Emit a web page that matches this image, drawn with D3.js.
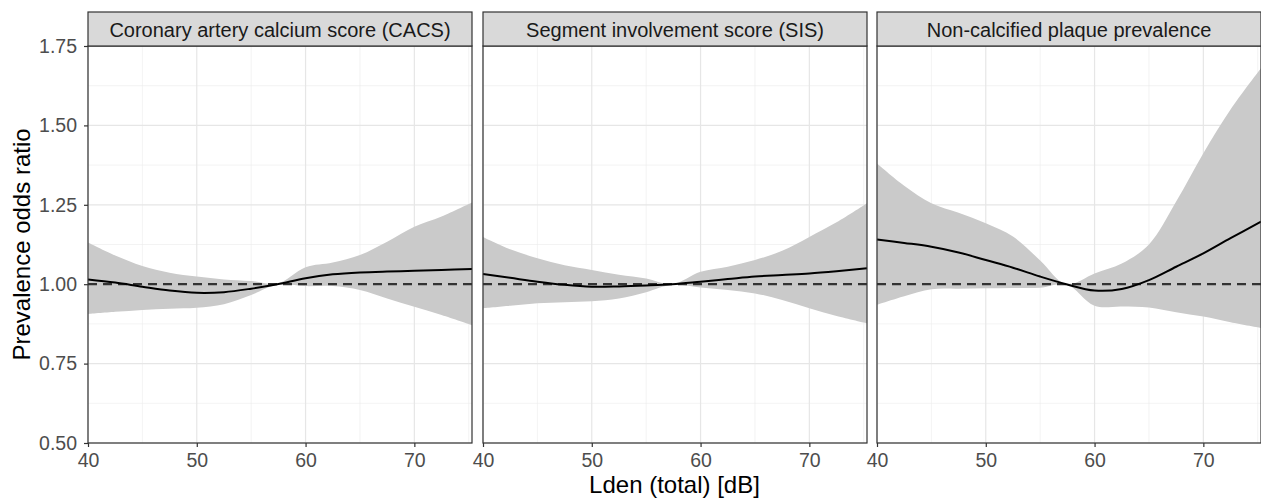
<!DOCTYPE html>
<html>
<head>
<meta charset="utf-8">
<script src="https://cdn.jsdelivr.net/npm/d3@7"></script>
<style>
  body { margin: 0; background: #fff; }
  text { font-family: "Liberation Sans", Arial, sans-serif; }
</style>
</head>
<body>
<svg id="chart" width="1261" height="499"></svg>
<script>
// panel titles
var panels = ["Coronary artery calcium score (CACS)", "Segment involvement score (SIS)", "Non-calcified plaque prevalence"];

// x positions where values were read (Lden, dB)
var lden = [40, 42.5, 45, 47.5, 50, 52.5, 55, 57.4, 60, 62.5, 65, 67.5, 70, 72.5, 75.3];

// CACS
var cacsFit   = [1.015, 1.005, 0.992, 0.980, 0.973, 0.975, 0.986, 1.000, 1.019, 1.031, 1.037, 1.040, 1.042, 1.045, 1.048];
var cacsUpper = [1.131, 1.090, 1.057, 1.036, 1.024, 1.015, 1.010, 1.001, 1.053, 1.068, 1.092, 1.134, 1.181, 1.213, 1.257];
var cacsLower = [0.906, 0.913, 0.919, 0.923, 0.926, 0.937, 0.966, 0.998, 0.994, 0.994, 0.982, 0.955, 0.929, 0.903, 0.871];

// SIS
var sisFit   = [1.032, 1.020, 1.008, 0.998, 0.992, 0.993, 0.996, 1.000, 1.008, 1.016, 1.024, 1.029, 1.034, 1.041, 1.050];
var sisUpper = [1.149, 1.110, 1.082, 1.060, 1.045, 1.030, 1.018, 1.000, 1.039, 1.055, 1.076, 1.105, 1.149, 1.195, 1.255];
var sisLower = [0.924, 0.932, 0.940, 0.943, 0.946, 0.955, 0.975, 0.998, 0.990, 0.982, 0.971, 0.950, 0.924, 0.900, 0.877];

// Non-calcified plaque
var ncpFit   = [1.141, 1.130, 1.118, 1.100, 1.076, 1.052, 1.024, 1.000, 0.980, 0.985, 1.013, 1.055, 1.097, 1.145, 1.197];
var ncpUpper = [1.380, 1.310, 1.255, 1.225, 1.192, 1.150, 1.075, 1.000, 1.034, 1.065, 1.125, 1.260, 1.412, 1.550, 1.680];
var ncpLower = [0.935, 0.962, 0.984, 0.986, 0.987, 0.988, 0.989, 1.000, 0.932, 0.930, 0.927, 0.912, 0.898, 0.880, 0.862];

var yTicks = [0.50, 0.75, 1.00, 1.25, 1.50, 1.75];
var xTicks = [40, 50, 60, 70];

var series = [
  {fit: cacsFit, upper: cacsUpper, lower: cacsLower},
  {fit: sisFit, upper: sisUpper, lower: sisLower},
  {fit: ncpFit, upper: ncpUpper, lower: ncpLower}
];

var svg = d3.select("#chart");
var panelLeft = [88, 483, 877];
var panelW = 384, stripTop = 12, plotTop = 46, plotH = 397;

var x = d3.scaleLinear().domain([40, 75.3]).range([0, panelW]);
var y = d3.scaleLinear().domain([0.5, 1.75]).range([plotH, 0]);

var minorY = d3.range(0.625, 1.75, 0.25);
var minorX = [45, 55, 65, 75];

var area = d3.area()
  .x(function(d) { return x(d.x); })
  .y0(function(d) { return y(d.lo); })
  .y1(function(d) { return y(d.hi); })
  .curve(d3.curveCatmullRom);
var line = d3.line()
  .x(function(d) { return x(d.x); })
  .y(function(d) { return y(d.v); })
  .curve(d3.curveCatmullRom);

series.forEach(function(s, i) {
  var g = svg.append("g").attr("transform", "translate(" + panelLeft[i] + "," + plotTop + ")");

  // grid
  g.selectAll(".minY").data(minorY).enter().append("line")
    .attr("x1", 0).attr("x2", panelW)
    .attr("y1", function(d) { return y(d); }).attr("y2", function(d) { return y(d); })
    .attr("stroke", "#ebebeb").attr("stroke-width", 0.6);
  g.selectAll(".minX").data(minorX).enter().append("line")
    .attr("y1", 0).attr("y2", plotH)
    .attr("x1", function(d) { return x(d); }).attr("x2", function(d) { return x(d); })
    .attr("stroke", "#ebebeb").attr("stroke-width", 0.6);
  g.selectAll(".majY").data(yTicks).enter().append("line")
    .attr("x1", 0).attr("x2", panelW)
    .attr("y1", function(d) { return y(d); }).attr("y2", function(d) { return y(d); })
    .attr("stroke", "#e6e6e6").attr("stroke-width", 1.2);
  g.selectAll(".majX").data(xTicks).enter().append("line")
    .attr("y1", 0).attr("y2", plotH)
    .attr("x1", function(d) { return x(d); }).attr("x2", function(d) { return x(d); })
    .attr("stroke", "#e6e6e6").attr("stroke-width", 1.2);

  var band = lden.map(function(v, k) { return {x: v, lo: s.lower[k], hi: s.upper[k]}; });
  var pts = lden.map(function(v, k) { return {x: v, v: s.fit[k]}; });

  g.append("path").attr("d", area(band)).attr("fill", "#cacaca");

  g.append("line")
    .attr("x1", 0).attr("x2", panelW)
    .attr("y1", y(1)).attr("y2", y(1))
    .attr("stroke", "#333").attr("stroke-width", 2.2)
    .attr("stroke-dasharray", "9,6");

  g.append("path").attr("d", line(pts))
    .attr("fill", "none").attr("stroke", "#000").attr("stroke-width", 2);

  // panel border
  g.append("rect").attr("x", 0).attr("y", 0).attr("width", panelW).attr("height", plotH)
    .attr("fill", "none").attr("stroke", "#333").attr("stroke-width", 1.2);

  // strip
  svg.append("rect")
    .attr("x", panelLeft[i]).attr("y", stripTop)
    .attr("width", panelW).attr("height", plotTop - stripTop)
    .attr("fill", "#d9d9d9").attr("stroke", "#333").attr("stroke-width", 1.2);
  svg.append("text")
    .attr("x", panelLeft[i] + panelW / 2).attr("y", 36.5)
    .attr("text-anchor", "middle").attr("font-size", 20).attr("fill", "#1a1a1a")
    .text(panels[i]);

  // x axis
  var xa = g.append("g").attr("transform", "translate(0," + plotH + ")")
    .call(d3.axisBottom(x).tickValues(xTicks).tickSize(4).tickPadding(6).tickFormat(d3.format("d")));
  xa.select(".domain").remove();
  xa.selectAll("line").attr("stroke", "#333").attr("stroke-width", 1.2);
  xa.selectAll("text").attr("font-size", 19.5).attr("fill", "#4d4d4d")
    .style("font-family", "Liberation Sans, Arial, sans-serif");
});

// y axis on first panel
var ya = svg.append("g").attr("transform", "translate(" + panelLeft[0] + "," + plotTop + ")")
  .call(d3.axisLeft(y).tickValues(yTicks).tickSize(4).tickPadding(7).tickFormat(d3.format(".2f")));
ya.select(".domain").remove();
ya.selectAll("line").attr("stroke", "#333").attr("stroke-width", 1.2);
ya.selectAll("text").attr("font-size", 19.5).attr("fill", "#4d4d4d")
  .style("font-family", "Liberation Sans, Arial, sans-serif");

// axis titles
svg.append("text")
  .attr("x", (panelLeft[0] + panelLeft[2] + panelW) / 2).attr("y", 493)
  .attr("text-anchor", "middle").attr("font-size", 24).attr("fill", "#000")
  .text("Lden (total) [dB]");
svg.append("text")
  .attr("transform", "translate(30," + (plotTop + plotH / 2) + ") rotate(-90)")
  .attr("text-anchor", "middle").attr("font-size", 24).attr("fill", "#000")
  .text("Prevalence odds ratio");
</script>
</body>
</html>
